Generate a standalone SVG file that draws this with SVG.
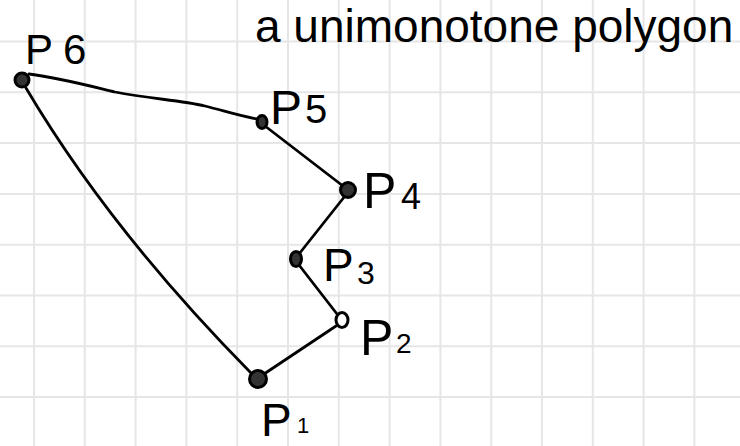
<svg xmlns="http://www.w3.org/2000/svg" width="740" height="446" viewBox="0 0 740 446">
<style>
.grid line{stroke:#e6e6e6;stroke-width:2}
.edge{fill:none;stroke:#000;stroke-width:2.8;stroke-linecap:round;stroke-linejoin:round}
.pt{stroke:#000;stroke-width:3;fill:#333}
.open{stroke:#000;stroke-width:3;fill:#fff}
.lbl{font-family:"Liberation Sans",Arial,sans-serif;fill:#000}
.title{font-family:"Liberation Sans",Arial,Helvetica,sans-serif;font-size:46px;fill:#000}
</style>
<rect width="740" height="446" fill="#fff"/>
<g class="grid">
<line x1="34" y1="0" x2="34" y2="446"/><line x1="84.8" y1="0" x2="84.8" y2="446"/><line x1="135.6" y1="0" x2="135.6" y2="446"/><line x1="186.4" y1="0" x2="186.4" y2="446"/><line x1="237.2" y1="0" x2="237.2" y2="446"/><line x1="288" y1="0" x2="288" y2="446"/><line x1="338.8" y1="0" x2="338.8" y2="446"/><line x1="389.6" y1="0" x2="389.6" y2="446"/><line x1="440.4" y1="0" x2="440.4" y2="446"/><line x1="491.2" y1="0" x2="491.2" y2="446"/><line x1="542" y1="0" x2="542" y2="446"/><line x1="592.8" y1="0" x2="592.8" y2="446"/><line x1="643.6" y1="0" x2="643.6" y2="446"/><line x1="694.4" y1="0" x2="694.4" y2="446"/>
<line x1="0" y1="41.5" x2="740" y2="41.5"/><line x1="0" y1="92.3" x2="740" y2="92.3"/><line x1="0" y1="143.1" x2="740" y2="143.1"/><line x1="0" y1="193.9" x2="740" y2="193.9"/><line x1="0" y1="244.7" x2="740" y2="244.7"/><line x1="0" y1="295.5" x2="740" y2="295.5"/><line x1="0" y1="346.3" x2="740" y2="346.3"/><line x1="0" y1="397.1" x2="740" y2="397.1"/>
</g>
<text class="title" x="255" y="42">a unimonotone polygon</text>
<g id="connectors">
<path class="edge" d="M 29 74 C 60 78, 90 86, 115 92 C 150 99, 180 100, 205 106 C 225 111, 240 116, 257 119"/>
<path class="edge" d="M 265 126 L 343 186"/>
<path class="edge" d="M 345 196 L 299 254"/>
<path class="edge" d="M 299 265 L 337 314"/>
<path class="edge" d="M 336 326 L 264 374"/>
<path class="edge" d="M 26 88 Q 110 230 251 373"/>
</g>
<g id="p6">
<circle class="pt" cx="22" cy="80" r="7"/>
<text class="lbl"><tspan x="25" y="64" font-size="42">P</tspan><tspan x="63" y="64" font-size="42">6</tspan></text>
</g>
<g id="p5">
<ellipse class="pt" cx="262" cy="122" rx="5" ry="6.5"/>
<text class="lbl"><tspan x="270" y="124" font-size="48">P</tspan><tspan x="305" y="123" font-size="40">5</tspan></text>
</g>
<g id="p4">
<circle class="pt" cx="348" cy="190" r="7.5"/>
<text class="lbl"><tspan x="363" y="208" font-size="50">P</tspan><tspan x="401" y="209" font-size="36">4</tspan></text>
</g>
<g id="p3">
<ellipse class="pt" cx="296" cy="259" rx="5.5" ry="7.5"/>
<text class="lbl"><tspan x="323" y="281" font-size="46">P</tspan><tspan x="357" y="284" font-size="32">3</tspan></text>
</g>
<g id="p2">
<ellipse class="open" cx="342" cy="320" rx="6" ry="7.5"/>
<text class="lbl"><tspan x="360" y="355" font-size="50">P</tspan><tspan x="396" y="353" font-size="28">2</tspan></text>
</g>
<g id="p1">
<circle class="pt" cx="258" cy="379" r="8.5"/>
<text class="lbl"><tspan x="261" y="436" font-size="46">P</tspan><tspan x="297" y="433" font-size="22">1</tspan></text>
</g>
</svg>
